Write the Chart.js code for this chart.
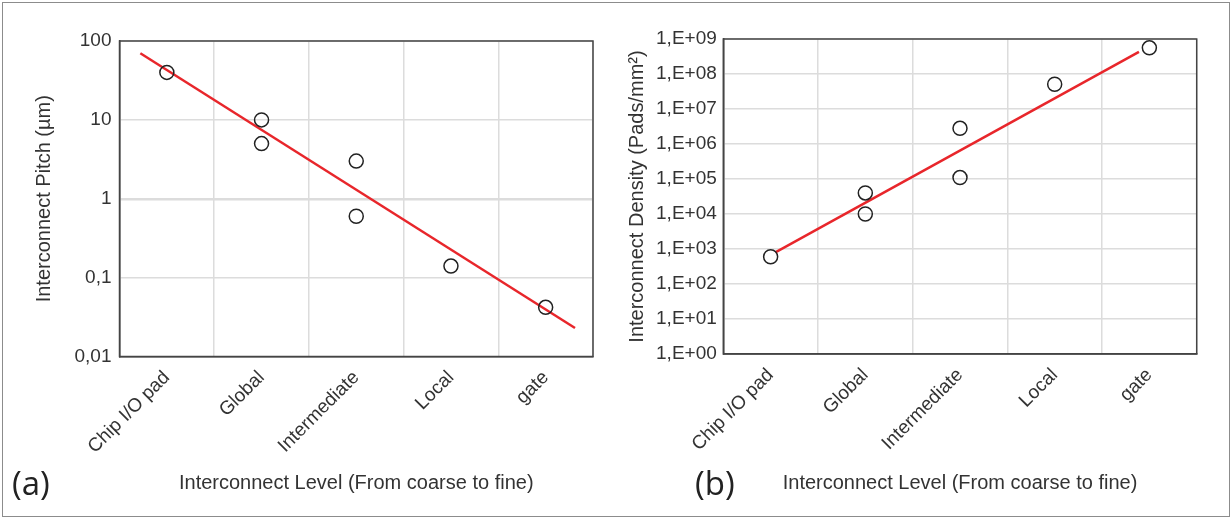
<!DOCTYPE html>
<html>
<head>
<meta charset="utf-8">
<script src="https://cdn.jsdelivr.net/npm/chart.js@4.4.1/dist/chart.umd.min.js"></script>
<style>
  html, body { margin: 0; padding: 0; background: #fff; }
  body { width: 1231px; height: 520px; position: relative; overflow: hidden; }
  .frame { position: absolute; left: 2px; top: 2px; width: 1226px; height: 513px; border: 1.5px solid #8c8c8c; }
  canvas { position: absolute; top: 0; }
  #chartA { left: 0; }
  #chartB { left: 612px; }
  .panel { position: absolute; font-family: "Open Sans", sans-serif; font-size: 33px; line-height: 33px; color: #222; }
</style>
</head>
<body>
<div class="frame"></div>
<canvas id="chartA" width="612" height="520"></canvas>
<canvas id="chartB" width="619" height="520"></canvas>
<div class="panel" style="left:12px; top:466px;">(a)</div>
<div class="panel" style="left:695px; top:466px;">(b)</div>
<script>
const levels = ["Chip I/O pad", "Global", "Intermediate", "Local", "gate"];

// (a) interconnect pitch
const pitchLevels = ["Chip I/O pad", "Global", "Global", "Intermediate", "Intermediate", "Local", "gate"];
const pitchValues = [40, 10, 5, 3, 0.6, 0.14, 0.042];
const pitchFitX = [-0.28, 4.31];
const pitchFitY = [70, 0.023];
const pitchTicks = [0.01, 0.1, 1, 10, 100];
const pitchTickLabels = ["0,01", "0,1", "1", "10", "100"];

// (b) interconnect density
const densityLevels = ["Chip I/O pad", "Global", "Global", "Intermediate", "Intermediate", "Local", "gate"];
const densityValues = [600, 40000, 10000, 2.8e6, 1.1e5, 5.1e7, 5.6e8];
const densityFitX = [0.05, 3.89];
const densityFitY = [800, 4.3e8];
const densityTicks = [1, 1e1, 1e2, 1e3, 1e4, 1e5, 1e6, 1e7, 1e8, 1e9];
const densityTickLabels = ["1,E+00", "1,E+01", "1,E+02", "1,E+03", "1,E+04", "1,E+05", "1,E+06", "1,E+07", "1,E+08", "1,E+09"];

Chart.defaults.font.family = "'Liberation Sans', Arial, sans-serif";
Chart.defaults.color = "#333";

const boxPlugin = {
  id: "box",
  afterDraw(chart) {
    const a = chart.chartArea, c = chart.ctx;
    c.save();
    c.strokeStyle = "#444";
    c.lineWidth = 1.5;
    c.strokeRect(a.left, a.top, a.right - a.left, a.bottom - a.top);
    c.restore();
  },
};

function makeChart(id, cfg) {
  const pts = cfg.levels.map((l, i) => ({ x: l, y: cfg.values[i] }));
  const fit = cfg.fitX.map((x, i) => ({ x: x, y: cfg.fitY[i] }));
  return new Chart(document.getElementById(id), {
    type: "line",
    data: {
      datasets: [
        {
          data: pts,
          showLine: false,
          pointRadius: 7,
          pointBorderWidth: 1.5,
          pointBorderColor: "#222",
          pointBackgroundColor: "rgba(0,0,0,0)",
          order: 0,
        },
        {
          data: fit,
          xAxisID: "xFit",
          borderColor: "#e8262b",
          borderWidth: 2.5,
          pointRadius: 0,
          order: 1,
        },
      ],
    },
    options: {
      responsive: false,
      animation: false,
      layout: { padding: cfg.padding },
      plugins: { legend: { display: false }, tooltip: { enabled: false } },
      scales: {
        x: {
          type: "category",
          labels: levels,
          offset: true,
          grid: { offset: true, color: "#dcdcdc", lineWidth: 1.5, drawTicks: false },
          border: { color: "#444", width: 1.5 },
          ticks: { minRotation: 45, maxRotation: 45, autoSkip: false, padding: 10, font: { size: 19 }, color: "#333" },
          afterFit: (s) => { s.height = cfg.xHeight; },
          title: {
            display: true,
            text: "Interconnect Level (From coarse to fine)",
            font: { size: 20 },
            color: "#333",
            padding: { top: 0, bottom: 25 },
          },
        },
        xFit: { type: "linear", display: false, min: -0.5, max: 4.5 },
        y: {
          type: "logarithmic",
          min: cfg.ticks[0],
          max: cfg.ticks[cfg.ticks.length - 1],
          afterBuildTicks: (s) => { s.ticks = cfg.ticks.map((v) => ({ value: v })); },
          afterFit: (s) => { s.width = cfg.yWidth; },
          ticks: {
            padding: cfg.tickPad,
            font: { size: 19 },
            color: "#333",
            callback: (v, i) => cfg.tickLabels[i],
          },
          grid: {
            color: "#dcdcdc",
            drawTicks: false,
            lineWidth: (c) => (cfg.heavy && c.tick && c.tick.value === 1 ? 2.5 : 1.5),
          },
          border: { color: "#444", width: 1.5 },
          title: {
            display: true,
            text: cfg.yTitle,
            font: { size: 20 },
            color: "#333",
            padding: { top: cfg.titlePad, bottom: 0 },
          },
        },
      },
    },
    plugins: [boxPlugin],
  });
}

makeChart("chartA", {
  levels: pitchLevels, values: pitchValues, fitX: pitchFitX, fitY: pitchFitY,
  ticks: pitchTicks, tickLabels: pitchTickLabels,
  yTitle: "Interconnect Pitch (µm)",
  padding: { top: 41, right: 19, left: 0, bottom: 0 },
  yWidth: 119.5, xHeight: 163.5, tickPad: 8, titlePad: 32, heavy: true,
});

makeChart("chartB", {
  levels: densityLevels, values: densityValues, fitX: densityFitX, fitY: densityFitY,
  ticks: densityTicks, tickLabels: densityTickLabels,
  yTitle: "Interconnect Density (Pads/mm²)",
  padding: { top: 39, right: 34.3, left: 0, bottom: 0 },
  yWidth: 111.3, xHeight: 166, tickPad: 6.5, titlePad: 13, heavy: false,
});
</script>
</body>
</html>
